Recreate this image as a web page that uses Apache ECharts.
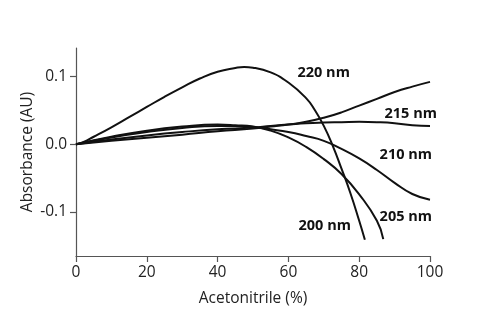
<!DOCTYPE html>
<html>
<head>
<meta charset="utf-8">
<script src="https://cdn.jsdelivr.net/npm/echarts@6/dist/echarts.min.js"></script>
<style>
html,body{margin:0;padding:0;background:#fff;}
#c{width:500px;height:322px;}
</style>
</head>
<body>
<div id="c"></div>
<script>
// Data (x = acetonitrile %, y = absorbance AU)
const x200 = [0, 2, 5, 10, 15, 20, 25, 30, 35, 40, 45, 47.5, 50, 55, 60, 65, 67.5, 70, 72.5, 75, 77.5, 80, 81.6];
const y200 = [0, 0.003, 0.011, 0.025, 0.040, 0.055, 0.070, 0.084, 0.097, 0.107, 0.1125, 0.114, 0.113, 0.106, 0.091, 0.068, 0.050, 0.027, -0.002, -0.036, -0.072, -0.113, -0.141];

const x205 = [0, 10, 20, 30, 40, 45, 50, 55, 60, 65, 70, 75, 80, 85, 86.8];
const y205 = [0, 0.011, 0.020, 0.026, 0.029, 0.028, 0.026, 0.020, 0.010, -0.004, -0.022, -0.044, -0.074, -0.113, -0.140];

const x210 = [0, 10, 20, 30, 40, 45, 50, 55, 60, 65, 70, 75, 80, 85, 90, 95, 100];
const y210 = [0, 0.010, 0.018, 0.024, 0.027, 0.027, 0.0255, 0.022, 0.018, 0.012, 0.005, -0.007, -0.021, -0.038, -0.057, -0.0735, -0.082];

const x215 = [0, 10, 20, 30, 40, 50, 55, 60, 65, 70, 75, 80, 85, 90, 95, 100];
const y215 = [0, 0.007, 0.013, 0.018, 0.022, 0.0245, 0.027, 0.029, 0.031, 0.032, 0.0325, 0.033, 0.0325, 0.031, 0.028, 0.027];

const x220 = [0, 10, 20, 30, 40, 50, 55, 60, 65, 70, 75, 80, 85, 90, 95, 100];
const y220 = [0, 0.005, 0.0095, 0.014, 0.019, 0.023, 0.026, 0.029, 0.033, 0.039, 0.047, 0.057, 0.067, 0.077, 0.085, 0.092];

const seriesNames = ['200 nm', '205 nm', '210 nm', '215 nm', '220 nm'];
// label anchor points in data units (left edge, vertical centre)
const labelX = [63, 85.9, 85.9, 87.3, 62.7];
const labelY = [-0.1217, -0.1074, -0.0158, 0.0433, 0.104];

const xTicks = [0, 20, 40, 60, 80, 100];
const yTicks = [-0.1, 0, 0.1];

const xs = [x200, x205, x210, x215, x220];
const ys = [y200, y205, y210, y215, y220];

const FONT = '"Open Sans", "DejaVu Sans", sans-serif';

const series = seriesNames.map((name, i) => ({
  name: name,
  type: 'line',
  smooth: 0.5,
  showSymbol: false,
  symbol: 'none',
  lineStyle: { color: '#111', width: 2 },
  data: xs[i].map((v, j) => [v, ys[i][j]]),
  markPoint: {
    symbol: 'circle',
    symbolSize: 1,
    itemStyle: { color: 'rgba(0,0,0,0)' },
    label: {
      show: true,
      formatter: name,
      position: [0, 0],
      align: 'left',
      verticalAlign: 'middle',
      color: '#111',
      fontFamily: FONT,
      fontWeight: 'bold',
      fontSize: 14.5
    },
    data: [{ coord: [labelX[i], labelY[i]] }]
  }
}));

const chart = echarts.init(document.getElementById('c'), null, { renderer: 'canvas' });
chart.setOption({
  animation: false,
  backgroundColor: '#fff',
  grid: { left: 76, right: 70, top: 48, bottom: 66, containLabel: false },
  xAxis: {
    type: 'value',
    min: 0, max: 100, interval: 20,
    name: 'Acetonitrile (%)',
    nameLocation: 'middle',
    nameGap: 35,
    nameMoveOverlap: false,
    nameTextStyle: { fontFamily: FONT, fontSize: 15.5, color: '#222' },
    axisLine: { show: true, onZero: false, lineStyle: { color: '#555', width: 1.2 } },
    axisTick: { show: true, length: 6, lineStyle: { color: '#555', width: 1.2 } },
    axisLabel: { fontFamily: FONT, fontSize: 15.5, color: '#222', margin: 9 },
    splitLine: { show: false }
  },
  yAxis: {
    type: 'value',
    min: -0.165, max: 0.142,
    name: 'Absorbance (AU)',
    nameLocation: 'middle',
    nameGap: 40,
    nameMoveOverlap: false,
    nameRotate: 90,
    nameTextStyle: { fontFamily: FONT, fontSize: 15.5, color: '#222' },
    axisLine: { show: true, onZero: false, lineStyle: { color: '#555', width: 1.2 } },
    axisTick: { show: true, length: 6, customValues: yTicks, lineStyle: { color: '#555', width: 1.2 } },
    axisLabel: {
      fontFamily: FONT, fontSize: 15.5, color: '#222', margin: 9,
      customValues: yTicks,
      formatter: v => v.toFixed(1)
    },
    splitLine: { show: false }
  },
  series: series
});
</script>
</body>
</html>
